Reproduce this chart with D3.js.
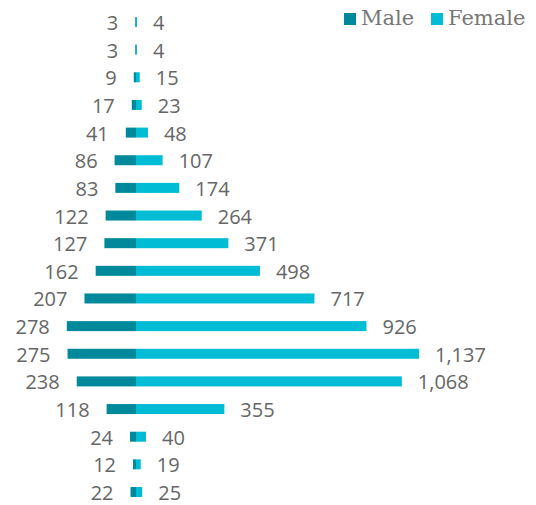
<!DOCTYPE html>
<html>
<head>
<meta charset="utf-8">
<script src="https://cdn.jsdelivr.net/npm/d3@7"></script>
<style>
  body { margin: 0; background: #fff; }
  text { font-family: "Open Sans", sans-serif; }
</style>
</head>
<body>
<div id="chart"></div>
<script>
var groups = ["g1","g2","g3","g4","g5","g6","g7","g8","g9","g10","g11","g12","g13","g14","g15","g16","g17","g18"];
var male   = [3, 3, 9, 17, 41, 86, 83, 122, 127, 162, 207, 278, 275, 238, 118, 24, 12, 22];
var female = [4, 4, 15, 23, 48, 107, 174, 264, 371, 498, 717, 926, 1137, 1068, 355, 40, 19, 25];
var series = ["Male", "Female"];

var width = 536, height = 505;
var center = 136;
var maleColor = "#00899a", femaleColor = "#00bcd4";
var fmt = d3.format(",");

var svg = d3.select("#chart").append("svg")
    .attr("width", width)
    .attr("height", height);

var y = d3.scalePoint().domain(groups).range([22, 492]);
var xF = d3.scaleLinear().domain([0, 1137]).range([center, 419]);
var xM = d3.scaleLinear().domain([0, 1137]).range([center, center - 283]);
var barH = 10;

var rows = svg.append("g").selectAll("g")
    .data(groups)
    .enter().append("g");

rows.append("rect")
    .attr("x", function(d, i) { return xM(male[i]); })
    .attr("y", function(d) { return y(d) - barH / 2; })
    .attr("width", function(d, i) { return center - xM(male[i]); })
    .attr("height", barH)
    .attr("fill", maleColor);

rows.append("rect")
    .attr("x", center)
    .attr("y", function(d) { return y(d) - barH / 2; })
    .attr("width", function(d, i) { return xF(female[i]) - center; })
    .attr("height", barH)
    .attr("fill", femaleColor);

rows.append("text")
    .attr("x", function(d, i) { return xM(male[i]) - 17; })
    .attr("y", function(d) { return y(d) + 1; })
    .attr("dy", "0.35em")
    .attr("text-anchor", "end")
    .style("font-size", "20px")
    .style("fill", "#666")
    .text(function(d, i) { return fmt(male[i]); });

rows.append("text")
    .attr("x", function(d, i) { return xF(female[i]) + 16; })
    .attr("y", function(d) { return y(d) + 1; })
    .attr("dy", "0.35em")
    .style("font-size", "20px")
    .style("fill", "#666")
    .text(function(d, i) { return fmt(female[i]); });

// legend
var legend = svg.append("g");
var lx = [344, 431];
series.forEach(function(s, i) {
  legend.append("rect")
      .attr("x", lx[i]).attr("y", 13)
      .attr("width", 12).attr("height", 12)
      .attr("fill", i === 0 ? maleColor : femaleColor);
  legend.append("text")
      .attr("x", lx[i] + 17).attr("y", 25)
      .style("font-family", "'DejaVu Serif', serif")
      .style("font-size", "21px")
      .style("fill", "#777")
      .text(s);
});
</script>
</body>
</html>
